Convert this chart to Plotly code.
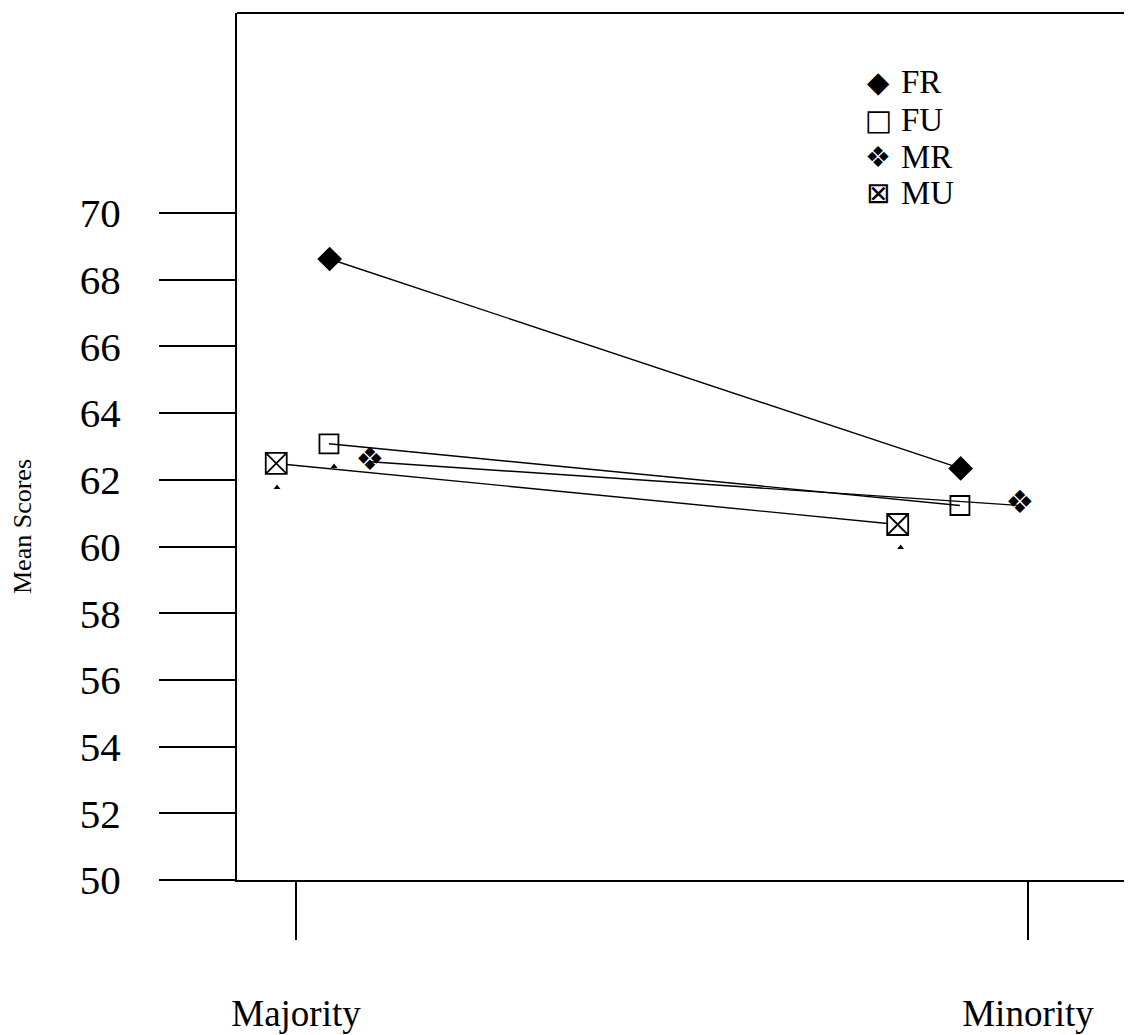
import plotly.graph_objects as go

# ---- data ----
groups = ["Majority", "Minority"]
group_pos = [0, 1]

fr_y = [68.62, 62.34]
fu_y = [63.08, 61.23]
mr_y = [62.54, 61.23]
mu_y = [62.49, 60.66]

# horizontal placement of each series around the group positions
fr_x = [0.046, 0.908]
fu_x = [0.045, 0.907]
mr_x = [0.101, 0.989]
mu_x = [-0.027, 0.822]

# small triangle marks under some points
tri_x = [-0.026, 0.052, 0.826]
tri_y = [61.77, 62.40, 59.97]

y_ticks = [50, 52, 54, 56, 58, 60, 62, 64, 66, 68, 70]
legend_names = ["FR", "FU", "MR", "MU"]
legend_glyphs = ["◆", "□", "❖", "⊠"]

SERIF = "Liberation Serif, Times New Roman, serif"
LW = 1.4

fig = go.Figure()

# lines
for xs, ys in [(fr_x, fr_y), (fu_x, fu_y), (mr_x, mr_y), (mu_x, mu_y)]:
    fig.add_trace(go.Scatter(x=xs, y=ys, mode="lines",
                             line=dict(color="black", width=LW),
                             showlegend=False, hoverinfo="skip"))

# markers
fig.add_trace(go.Scatter(x=fr_x, y=fr_y, mode="markers", name="FR",
                         marker=dict(symbol="diamond", size=19, color="black",
                                     line=dict(width=0)),
                         showlegend=False))
fig.add_trace(go.Scatter(x=fu_x, y=fu_y, mode="markers", name="FU",
                         marker=dict(symbol="square-open", size=19, color="black",
                                     line=dict(width=1.8)),
                         showlegend=False))
fig.add_trace(go.Scatter(x=mr_x, y=mr_y, mode="text", name="MR",
                         text=["❖"] * len(mr_x), textposition="middle center",
                         textfont=dict(family="DejaVu Sans", size=32, color="black"),
                         showlegend=False))
fig.add_trace(go.Scatter(x=mu_x, y=mu_y, mode="markers", name="MU",
                         marker=dict(symbol="square-x", size=21, color="white",
                                     line=dict(width=1.8, color="black")),
                         showlegend=False))
fig.add_trace(go.Scatter(x=tri_x, y=tri_y, mode="markers",
                         marker=dict(symbol="triangle-up", size=6, color="black"),
                         showlegend=False, hoverinfo="skip"))

# page offset (default body margin) compensation
OFF = 8
W, H = 1132 - OFF, 1035 - OFF
ml, mr_, mt, mb = 237 - OFF, 0, 13 - OFF, 155
pw, ph = W - ml - mr_, H - mt - mb

def px_x(p):
    return (p - OFF - ml) / pw

def px_y(p):
    return (OFF + mt + ph - p) / ph

annotations = []
row_y = [82, 120, 157, 193]
for name, glyph, ry in zip(legend_names, legend_glyphs, row_y):
    annotations.append(dict(x=px_x(878), y=px_y(ry), xref="paper", yref="paper",
                            text=glyph, showarrow=False, xanchor="center", yanchor="middle",
                            font=dict(family="DejaVu Sans", size=29, color="black")))
    annotations.append(dict(x=px_x(899), y=px_y(ry), xref="paper", yref="paper",
                            text=name, showarrow=False, xanchor="left", yanchor="middle",
                            font=dict(family=SERIF, size=33, color="black")))

annotations.append(dict(x=px_x(22), y=px_y(527), xref="paper", yref="paper",
                        text="Mean Scores", textangle=-90, showarrow=False,
                        xanchor="center", yanchor="middle",
                        font=dict(family=SERIF, size=26, color="black")))

shapes = [dict(type="line", xref="paper", yref="paper", x0=0, x1=1.01, y0=1, y1=1,
               line=dict(color="black", width=2))]

fig.update_layout(
    width=W, height=H,
    margin=dict(l=ml, r=mr_, t=mt, b=mb, autoexpand=False),
    paper_bgcolor="white", plot_bgcolor="white",
    annotations=annotations, shapes=shapes,
    showlegend=False,
    font=dict(family=SERIF, color="black"),
)

fig.update_xaxes(range=[-59 / 732, (1132 - 296) / 732], tickvals=group_pos, ticktext=groups,
                 automargin=False,
                 showgrid=False, zeroline=False, showline=True, linecolor="black", linewidth=2,
                 ticks="outside", ticklen=58, tickwidth=1.8, tickcolor="black",
                 ticklabelstandoff=42, tickfont=dict(family=SERIF, size=37, color="black"))
fig.update_yaxes(range=[50, 50 + ph / 33.35], tickvals=y_ticks, automargin=False,
                 showgrid=False, zeroline=False, showline=True, linecolor="black", linewidth=2,
                 ticks="outside", ticklen=76, tickwidth=1.5, tickcolor="black",
                 ticklabelstandoff=30, tickfont=dict(family=SERIF, size=41, color="black"))

fig.write_html("out.html")
